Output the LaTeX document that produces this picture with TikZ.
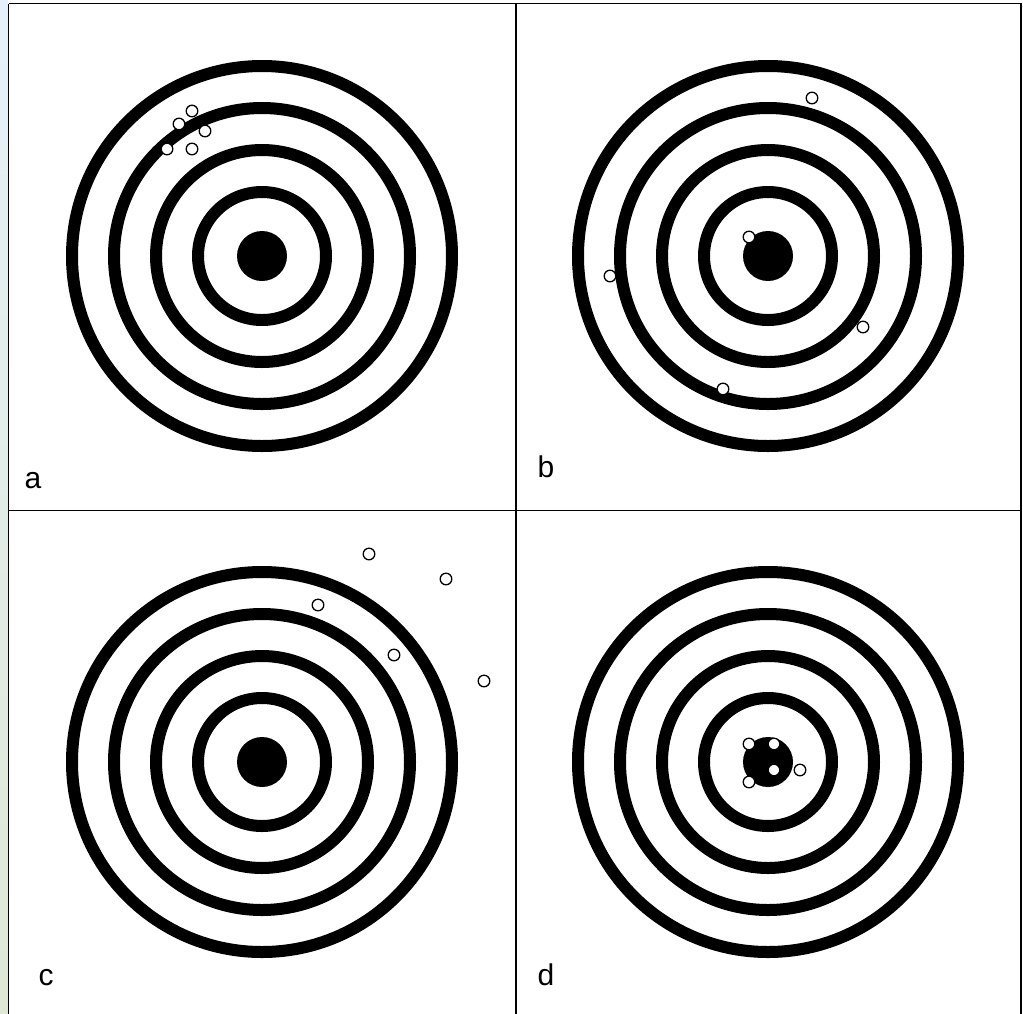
\documentclass[tikz,border=0pt]{standalone}
\usepackage{fontspec}
\setmainfont{Liberation Sans}
\begin{document}
\begin{tikzpicture}[x=1pt,y=-1pt,
  ring/.style={draw=black,line width=12pt},
  hole/.style={draw=black,fill=white,line width=1.3pt},
  lbl/.style={font=\fontsize{30}{36}\selectfont,inner sep=0pt,anchor=base},
  frame/.style={draw=black,line width=1.5pt}]
\useasboundingbox (0,0) rectangle (1023,1013);
\fill[white] (0,0) rectangle (1023,1013);
\shade[top color={rgb,255:red,230;green,240;blue,250},bottom color={rgb,255:red,222;green,232;blue,212}] (0,0) rectangle (7.5,1013);
% frame
\draw[frame] (8.5,3.5) -- (1021,3.5) -- (1021,1020);
\draw[frame] (8.5,3.5) -- (8.5,1020);
\draw[black,line width=1.2pt] (516,3.5) -- (516,1020);
\draw[black,line width=1.2pt] (8.5,510.5) -- (1021,510.5);
% targets
\foreach \cx/\cy in {262/256,768/256,262/762,768/762}{
  \foreach \r in {190,148,106,64}{\draw[ring] (\cx,\cy) circle[radius=\r];}
  \fill[black] (\cx,\cy) circle[radius=25];
}
% holes a
\foreach \p in {(192,111),(179,124),(205,131),(167,149),(192,149)}{\draw[hole] \p circle[radius=5.8];}
% holes b
\foreach \p in {(812,98),(749,237),(610,276),(863,327),(723,389)}{\draw[hole] \p circle[radius=5.8];}
% holes c
\foreach \p in {(369,554),(446,579),(318,605),(394,655),(484,681)}{\draw[hole] \p circle[radius=5.8];}
% holes d
\foreach \p in {(749,744),(774,744),(774,770),(800,770),(749,782)}{\draw[hole] \p circle[radius=5.8];}
% labels
\node[lbl] (la) at (33,488) {a};
\node[lbl] (lb) at (546,477) {b};
\node[lbl] (lc) at (46,985) {c};
\node[lbl] (ld) at (546,985) {d};
\end{tikzpicture}
\end{document}
